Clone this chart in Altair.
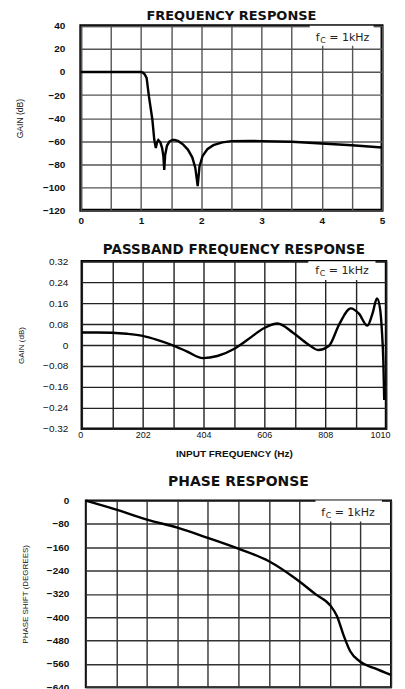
import altair as alt
import pandas as pd

# ---------------- data ----------------
# Frequency response: frequency (kHz) vs gain (dB)
fr_freq = [0, 0.5, 1.0, 1.03, 1.06, 1.093, 1.13, 1.187, 1.22, 1.245, 1.265, 1.286, 1.32, 1.35,
           1.37, 1.385, 1.40, 1.43, 1.47, 1.52, 1.56, 1.62, 1.70, 1.78, 1.85, 1.90, 1.94,
           1.97, 2.02, 2.10, 2.20, 2.35, 2.50, 2.80, 3.0, 3.5, 4.0, 4.5, 5.0]
fr_gain = [0, 0, 0, -0.5, -2, -5.3, -21, -41, -59, -66, -61, -59, -61, -66,
           -73, -85, -72, -64, -60.5, -59, -59, -60, -63, -67.5, -74, -83, -99,
           -82, -73, -67, -63.5, -61, -60, -59.8, -60, -60.5, -62, -63.5, -65.5]
fr_xticks = [0, 0.5, 1, 1.5, 2, 2.5, 3, 3.5, 4, 4.5, 5]
fr_yticks = [40, 20, 0, -20, -40, -60, -80, -100, -120]

# Passband response: frequency (Hz) vs gain (dB)
pb_freq = [0, 50, 100, 150, 202, 250, 300, 350, 402, 450, 505, 550, 606, 650, 700,
           750, 785, 820, 855, 893, 920, 948, 965, 980, 990, 996, 1001, 1004]
pb_gain = [0.048, 0.048, 0.047, 0.043, 0.035, 0.020, 0.0, -0.025, -0.05, -0.042, -0.015,
           0.02, 0.065, 0.082, 0.048, 0.004, -0.019, -0.004, 0.08, 0.14, 0.12, 0.074,
           0.12, 0.178, 0.14, 0.06, -0.06, -0.21]
pb_xticks = [0, 101, 202, 303, 404, 505, 606, 707, 808, 909, 1010]
pb_yticks = [0.32, 0.24, 0.16, 0.08, 0, -0.08, -0.16, -0.24, -0.32]

# Phase response: frequency (Hz) vs phase shift (degrees)
ph_freq = [0, 101, 202, 303, 404, 505, 606, 696, 760, 810, 831, 852, 875, 907, 955, 1010]
ph_shift = [0, -31, -65, -93, -128, -165, -208, -269, -321, -361, -396, -459, -517, -552,
            -575, -598]
ph_xticks = [0, 101, 202, 303, 404, 505, 606, 707, 808, 909, 1010]
ph_yticks = [0, -80, -160, -240, -320, -400, -480, -560, -640]

titles = ["FREQUENCY RESPONSE", "PASSBAND FREQUENCY RESPONSE", "PHASE RESPONSE"]
y_titles = ["GAIN (dB)", "GAIN (dB)", "PHASE SHIFT (DEGREES)"]
x_title = "INPUT FREQUENCY (Hz)"
note_parts = ["f", "C", "= 1kHz"]

# annotation anchors (data units): text x, text y, box x0, box x1, box y0, box y1
fr_note = [3.9, 29.2, 3.8, 4.86, 40, 22.7]
pb_note = [775, 0.282, 752, 975, 0.32, 0.248]
ph_note = [779, -41, 760, 980, 0, -72]

TITLE_FONT = "DejaVu Sans"
LABEL_FONT = "Liberation Sans"
NARROW_FONT = "Liberation Sans Narrow, Liberation Sans, sans-serif"
NOTE_FONT = "DejaVu Sans"


def spacer(w):
    return alt.Chart(pd.DataFrame({"s": [0]})).mark_point(size=1, opacity=0).encode(
        x=alt.value(0.5), y=alt.value(0.5)
    ).properties(width=w, height=1,
                 view=alt.ViewBackground(stroke="transparent", strokeWidth=0))


def panel(xs, ys, xdom, ydom, xticks, yticks, xlabel_expr, ylabel_expr, title, ytitle,
          note, width, height, interp, title_size, title_offset, ytitle_x, ytitle_size,
          ylabel_pad, label_weight, grid_color, frame_w, xlabels_on, xlabel_size):
    df = pd.DataFrame({"x": xs, "y": ys})
    if xlabels_on:
        xaxis = alt.Axis(values=xticks, labelExpr=xlabel_expr, labelOverlap=False,
                         labelFlush=xlabels_on[3], labelFlushOffset=xlabels_on[4],
                         domain=False, ticks=False, grid=True,
                         gridColor=grid_color, gridWidth=1.4, gridOpacity=1,
                         labelFont=LABEL_FONT, labelFontSize=xlabel_size, labelColor="#111",
                         labelFontWeight=label_weight, labelPadding=xlabels_on[0],
                         title=xlabels_on[1],
                         titleFont=LABEL_FONT, titleFontSize=10, titleFontWeight="bold",
                         titleColor="#111", titlePadding=xlabels_on[2])
    else:
        xaxis = alt.Axis(values=xticks, labels=False, domain=False, ticks=False, grid=True,
                         gridColor=grid_color, gridWidth=1.4, gridOpacity=1, title=None)
    yaxis = alt.Axis(values=yticks, labelExpr=ylabel_expr, labelOverlap=False,
                     labelFlush=False, domain=False, ticks=False, grid=True,
                     gridColor=grid_color, gridWidth=1.4, gridOpacity=1,
                     labelFont=LABEL_FONT, labelFontSize=10, labelColor="#111",
                     labelFontWeight=label_weight, labelPadding=ylabel_pad,
                     title=ytitle, titleFont=NARROW_FONT, titleFontSize=ytitle_size,
                     titleFontWeight="normal", titleColor="#111", titleX=ytitle_x)
    xsc = alt.Scale(domain=xdom, nice=False, zero=False)
    ysc = alt.Scale(domain=ydom, nice=False, zero=False)

    line = alt.Chart(df).mark_line(color="black", strokeWidth=2.4, interpolate=interp).encode(
        x=alt.X("x:Q", scale=xsc, axis=xaxis),
        y=alt.Y("y:Q", scale=ysc, axis=yaxis),
    )
    box_df = pd.DataFrame({"x": [note[2]], "x2": [note[3]], "y": [note[4]], "y2": [note[5]]})
    box = alt.Chart(box_df).mark_rect(color="white").encode(
        x=alt.X("x:Q", scale=xsc, axis=xaxis), x2="x2:Q",
        y=alt.Y("y:Q", scale=ysc, axis=yaxis), y2="y2:Q",
    )
    note_df = pd.DataFrame({"x": [note[0]], "y": [note[1]]})
    t_f = alt.Chart(note_df).mark_text(text=note_parts[0], align="left", baseline="middle",
                                       font=NOTE_FONT, fontSize=11, color="#222").encode(
        x=alt.X("x:Q", scale=xsc, axis=xaxis), y=alt.Y("y:Q", scale=ysc, axis=yaxis))
    t_c = alt.Chart(note_df).mark_text(text=note_parts[1], align="left", baseline="middle",
                                       font=NOTE_FONT, fontSize=8, color="#222",
                                       dx=4.5, dy=3).encode(
        x=alt.X("x:Q", scale=xsc, axis=xaxis), y=alt.Y("y:Q", scale=ysc, axis=yaxis))
    t_r = alt.Chart(note_df).mark_text(text=note_parts[2], align="left", baseline="middle",
                                       font=NOTE_FONT, fontSize=11, color="#222",
                                       dx=13.5).encode(
        x=alt.X("x:Q", scale=xsc, axis=xaxis), y=alt.Y("y:Q", scale=ysc, axis=yaxis))

    return alt.layer(box, line, t_f, t_c, t_r).properties(
        width=width, height=height,
        title=alt.TitleParams(text=title, font=TITLE_FONT, fontSize=title_size,
                              fontWeight="bold", color="#111", anchor="middle",
                              offset=title_offset),
        view=alt.ViewBackground(stroke="black", strokeWidth=frame_w),
    )


c1 = panel(fr_freq, fr_gain, [0, 5], [-120, 40], fr_xticks, fr_yticks,
           "datum.value % 1 == 0 ? format(datum.value, 'd') : ''",
           "format(datum.value, 'd')",
           titles[0], y_titles[0], fr_note, 302, 185, "linear",
           13, -2.5, -56.7, 8.6, 16, "bold", "#555", 3, (5, None, 0, False, 0), 10)

c2 = panel(pb_freq, pb_gain, [0, 1010], [-0.32, 0.32], pb_xticks, pb_yticks,
           "datum.value % 202 == 0 ? format(datum.value, 'd') : ''",
           "datum.value == 0 ? '0' : format(datum.value, '.2f')",
           titles[1], y_titles[1], pb_note, 305, 168, "monotone",
           13.5, 0, -56.6, 8, 14, "normal", "#222", 2.5, (2, x_title, 8.7, True, 4), 9)

c3 = panel(ph_freq, ph_shift, [0, 1010], [-640, 0], ph_xticks, ph_yticks,
           "datum.value % 202 == 0 ? format(datum.value, 'd') : ''",
           "format(datum.value, 'd')",
           titles[2], y_titles[2], ph_note, 306, 187, "monotone",
           14, 6.5, -56.2, 8, 17, "bold", "#333", 2, None, 10)

row1 = alt.hconcat(spacer(4.5), c1, spacing=0)
row2 = alt.hconcat(spacer(7.3), c2, spacing=0)
row3 = alt.hconcat(spacer(11.2), c3, spacing=0)

chart = alt.vconcat(row1, row2, row3, spacing=14).properties(
    padding={"left": 0, "top": 0, "right": 0, "bottom": 0}
).configure(background="white")

chart.save("out.html", embed_options={"renderer": "svg", "actions": False})
